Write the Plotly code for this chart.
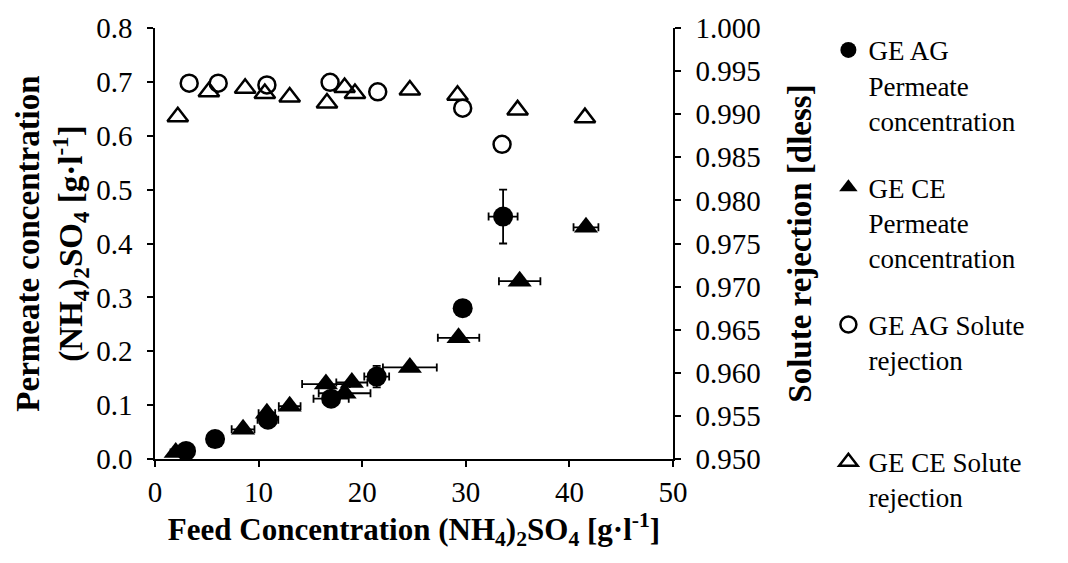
import plotly.graph_objects as go

# GE AG permeate concentration
ag_perm_x = [3.0, 5.8, 10.9, 17.0, 21.4, 29.7, 33.6]
ag_perm_y = [0.015, 0.037, 0.073, 0.112, 0.153, 0.280, 0.450]
ag_perm_xerr = [0.5, 0.5, 1.0, 1.7, 1.2, 0.6, 1.4]
ag_perm_yerr = [0.004, 0.005, 0.008, 0.010, 0.020, 0.015, 0.050]

# GE CE permeate concentration
ce_perm_x = [2.0, 8.5, 10.8, 13.0, 16.5, 18.3, 19.0, 24.6, 29.3, 35.2, 41.6]
ce_perm_y = [0.012, 0.055, 0.085, 0.098, 0.139, 0.122, 0.142, 0.170, 0.225, 0.330, 0.430]
ce_perm_xerr = [0.5, 1.1, 0.8, 1.05, 2.3, 2.5, 1.5, 2.6, 2.0, 2.0, 1.2]

# GE AG solute rejection
ag_rej_x = [3.3, 6.1, 10.8, 16.9, 21.5, 29.7, 33.5]
ag_rej_y = [0.9936, 0.9936, 0.9934, 0.9937, 0.9926, 0.9907, 0.9865]

# GE CE solute rejection
ce_rej_x = [2.2, 5.2, 8.7, 10.6, 13.0, 16.6, 18.3, 19.3, 24.6, 29.2, 35.0, 41.5]
ce_rej_y = [0.9897, 0.9926, 0.9930, 0.9924, 0.9920, 0.9913, 0.9931, 0.9924, 0.9928, 0.9922, 0.9905, 0.9896]

names = [
    "GE AG<br>Permeate<br>concentration",
    "GE CE<br>Permeate<br>concentration",
    "GE AG Solute<br>rejection<br> ",
    "GE CE Solute<br>rejection",
]

FONT = "Liberation Serif, Times New Roman, serif"
BLACK = "#000000"

err_style = dict(color=BLACK, thickness=1.8, width=4)

fig = go.Figure()
fig.add_trace(go.Scatter(
    x=ag_perm_x, y=ag_perm_y, mode="markers", name=names[0], legendgroup="a",
    marker=dict(symbol="circle", size=20, color=BLACK),
    error_x=dict(type="data", array=ag_perm_xerr, **err_style),
    error_y=dict(type="data", array=ag_perm_yerr, **err_style),
))
fig.add_trace(go.Scatter(
    x=ce_perm_x, y=ce_perm_y, mode="markers", name=names[1], legendgroup="b",
    marker=dict(symbol="triangle-up", size=21, color=BLACK),
    error_x=dict(type="data", array=ce_perm_xerr, **err_style),
))
fig.add_trace(go.Scatter(
    x=ag_rej_x, y=ag_rej_y, mode="markers", name=names[2], legendgroup="c", yaxis="y2",
    marker=dict(symbol="circle-open", size=17, color=BLACK, line=dict(width=2.5, color=BLACK)),
))
fig.add_trace(go.Scatter(
    x=ce_rej_x, y=ce_rej_y, mode="markers", name=names[3], legendgroup="d", yaxis="y2",
    marker=dict(symbol="triangle-up-open", size=18, color=BLACK, line=dict(width=2.5, color=BLACK)),
))

axis_common = dict(
    showline=True, linecolor=BLACK, linewidth=1.5, ticks="outside", ticklen=6,
    tickwidth=1.5, tickcolor=BLACK, showgrid=False, zeroline=False,
    tickfont=dict(family=FONT, size=29, color=BLACK),
)

fig.update_layout(
    width=1068, height=563,
    paper_bgcolor="white", plot_bgcolor="white",
    margin=dict(l=155, r=395, t=22, b=104),
    font=dict(family=FONT, color=BLACK),
    xaxis=dict(
        range=[0, 50], dtick=10, tick0=0,
        title=dict(text="<b>Feed Concentration (NH<sub>4</sub>)<sub>2</sub>SO<sub>4</sub> [g·l<sup>-1</sup>]</b>",
                   font=dict(family=FONT, size=31, color=BLACK), standoff=8),
        **axis_common,
    ),
    yaxis=dict(
        range=[0, 0.8], dtick=0.1, tick0=0, tickformat=".1f", ticklabelstandoff=9,
        title=dict(text="<b>Permeate concentration<br>(NH<sub>4</sub>)<sub>2</sub>SO<sub>4</sub> [g·l<sup>-1</sup>]</b>",
                   font=dict(family=FONT, size=33, color=BLACK), standoff=4),
        **axis_common,
    ),
    yaxis2=dict(
        range=[0.95, 1.0], dtick=0.005, tick0=0.95, tickformat=".3f", ticklabelstandoff=9,
        overlaying="y", side="right", anchor="x",
        title=dict(text="<b>Solute rejection [dless]</b>",
                   font=dict(family=FONT, size=33, color=BLACK), standoff=28),
        **axis_common,
    ),
    legend=dict(
        x=1.30, xanchor="left", y=1.005, yanchor="top",
        font=dict(family=FONT, size=27, color=BLACK),
        valign="top", tracegroupgap=29, itemwidth=30,
        bgcolor="rgba(0,0,0,0)", maxheight=560,
    ),
    showlegend=True,
)

fig.write_html("out.html")
